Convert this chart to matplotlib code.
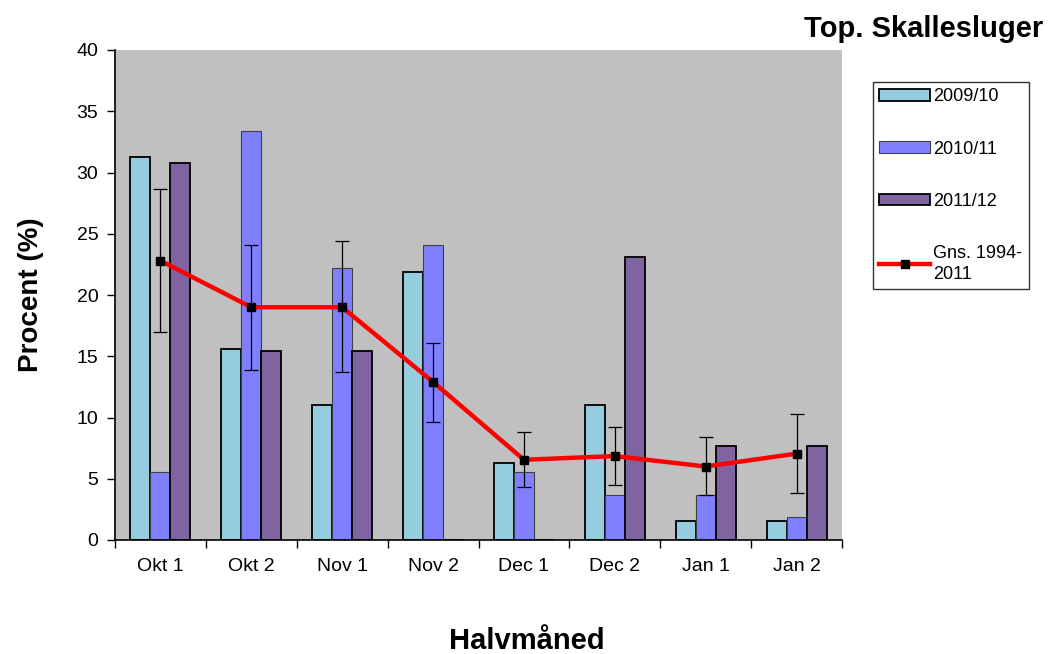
import matplotlib
matplotlib.use("Agg")
import matplotlib.pyplot as plt
import numpy as np

plt.rcParams['font.family'] = ['Liberation Sans', 'DejaVu Sans']

categories = ["Okt 1", "Okt 2", "Nov 1", "Nov 2", "Dec 1", "Dec 2", "Jan 1", "Jan 2"]
s2009 = [31.25, 15.6, 11.0, 21.9, 6.25, 11.0, 1.56, 1.56]
s2010 = [5.56, 33.4, 22.2, 24.1, 5.56, 3.7, 3.7, 1.85]
s2011 = [30.8, 15.4, 15.4, 0, 0, 23.1, 7.7, 7.7]
mean = [22.8, 19.0, 19.0, 12.9, 6.55, 6.85, 6.0, 7.05]
err_hi = [28.65, 24.1, 24.4, 16.1, 8.8, 9.25, 8.4, 10.25]
err_lo = [17.0, 13.85, 13.7, 9.65, 4.35, 4.45, 3.65, 3.85]
series_labels = ["2009/10", "2010/11", "2011/12", "Gns. 1994-\n2011"]
title = "Top. Skallesluger"

fig = plt.figure(figsize=(10.5, 6.54), dpi=100)
ax = fig.add_axes([115/1050, 1-540/654, (842-115)/1050, (540-50)/654])
ax.set_facecolor("#C0C0C0")

x = np.arange(len(categories))
w = 0.22
b1 = ax.bar(x - w, s2009, w, color="#96CDDE", edgecolor="black", linewidth=1.3, label=series_labels[0], zorder=2)
b2 = ax.bar(x, s2010, w, color="#8080FF", edgecolor="#404040", linewidth=0.8, label=series_labels[1], zorder=2)
b3 = ax.bar(x + w, s2011, w, color="#8064A2", edgecolor="black", linewidth=1.3, label=series_labels[2], zorder=2)

mean_a = np.array(mean)
yerr = np.vstack([mean_a - np.array(err_lo), np.array(err_hi) - mean_a])
ax.errorbar(x, mean, yerr=yerr, fmt="none", ecolor="black", elinewidth=0.9, capsize=5, capthick=0.9, zorder=3)
ln, = ax.plot(x, mean, color="#FF0000", linewidth=3.2, marker="s", markersize=6,
              markerfacecolor="black", markeredgecolor="black", label=series_labels[3], zorder=4)

ax.set_xlim(-0.5, len(categories) - 0.5)
ax.set_ylim(0, 40)
ax.set_yticks(np.arange(0, 41, 5))
ax.set_xticks(x)
ax.set_xticklabels(categories)
ax.set_xticks(np.arange(-0.5, len(categories), 1), minor=True)
ax.tick_params(axis="x", which="major", length=0, labelsize=14, pad=13)
ax.tick_params(axis="x", which="minor", length=6, direction="out", width=1)
ax.tick_params(axis="y", labelsize=14, length=6, direction="out", width=1, pad=6)
for s in ["top", "right"]:
    ax.spines[s].set_visible(False)
for s in ["left", "bottom"]:
    ax.spines[s].set_linewidth(1.2)
    ax.spines[s].set_color("black")

ax.set_ylabel("Procent (%)", fontsize=20, fontweight="bold")
ax.yaxis.set_label_coords(-0.098, 0.5)
fig.text(527/1050, 1-641/654, "Halvmåned", fontsize=21, fontweight="bold", ha="center", va="center")
fig.text(1043/1050, 1-29/654, title, fontsize=21, fontweight="bold", ha="right", va="center")

leg = fig.legend(handles=[b1, b2, b3, ln], labels=series_labels,
                 loc="upper left", bbox_to_anchor=(873/1050, 1-82/654), borderaxespad=0,
                 fontsize=13, frameon=True, fancybox=False, edgecolor="black",
                 handlelength=2.8, handleheight=0.6, labelspacing=1.95, handletextpad=0.2,
                 borderpad=0.35)
leg.get_frame().set_linewidth(1.0)
leg.get_texts()[3].set_linespacing(1.3)

fig.savefig("out.png", dpi=100)
